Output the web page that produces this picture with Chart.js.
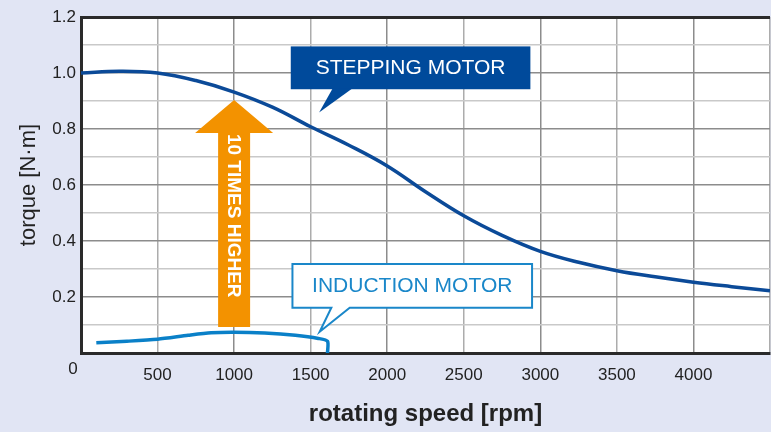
<!DOCTYPE html>
<html>
<head>
<meta charset="utf-8">
<script src="https://cdn.jsdelivr.net/npm/chart.js@4.4.0/dist/chart.umd.min.js"></script>
<style>
  html, body { margin: 0; padding: 0; background: #e1e5f4; }
  #wrap { width: 771px; height: 432px; }
</style>
</head>
<body>
<div id="wrap"><canvas id="torque-chart"></canvas></div>
<script>
    // stepping motor curve
    const stepSpeed = [0, 250, 500, 750, 1000, 1250, 1500, 1750, 2000, 2250, 2500, 2750, 3000, 3250, 3500, 3750, 4000, 4250, 4500];
    const stepTorque = [1.0, 1.006, 1.0, 0.973, 0.932, 0.878, 0.808, 0.742, 0.668, 0.576, 0.49, 0.42, 0.363, 0.324, 0.294, 0.272, 0.253, 0.237, 0.222];

    // induction motor curve (ends with the drop to zero)
    const indSpeed = [100, 300, 500, 700, 850, 1000, 1200, 1400, 1550, 1610, 1610];
    const indTorque = [0.037, 0.042, 0.049, 0.063, 0.072, 0.074, 0.071, 0.063, 0.052, 0.042, 0];

    // axis ticks
    const speedTicks = [0, 500, 1000, 1500, 2000, 2500, 3000, 3500, 4000];
    const torqueTicks = [0.2, 0.4, 0.6, 0.8, 1.0, 1.2];

    const FONT = '"Liberation Sans", Arial, Helvetica, sans-serif';

    const toPoints = (xs, ys) => xs.map((v, i) => ({ x: v, y: ys[i] }));

    // background, arrow and callouts
    const decor = {
        id: 'decor',
        beforeDraw(chart) {
            const { ctx, chartArea: a } = chart;
            ctx.save();
            ctx.fillStyle = '#e1e5f4';
            ctx.fillRect(0, 0, chart.width, chart.height);
            ctx.fillStyle = '#ffffff';
            ctx.fillRect(a.left, a.top, a.right - a.left, a.bottom - a.top);
            ctx.restore();
        },
        afterDatasetsDraw(chart) {
            const { ctx } = chart;
            const x = chart.scales.x, y = chart.scales.y;
            ctx.save();

            // orange arrow
            const ax = x.getPixelForValue(1000);
            const tip = y.getPixelForValue(0.904);
            const base = y.getPixelForValue(0.786);
            const bot = y.getPixelForValue(0.093);
            ctx.fillStyle = '#f39200';
            ctx.beginPath();
            ctx.moveTo(ax, tip);
            ctx.lineTo(ax + 39, base);
            ctx.lineTo(ax + 16, base);
            ctx.lineTo(ax + 16, bot);
            ctx.lineTo(ax - 16, bot);
            ctx.lineTo(ax - 16, base);
            ctx.lineTo(ax - 39, base);
            ctx.closePath();
            ctx.fill();

            ctx.save();
            ctx.translate(ax, base + 1);
            ctx.rotate(Math.PI / 2);
            ctx.fillStyle = '#ffffff';
            ctx.font = 'bold 19px ' + FONT;
            ctx.textAlign = 'left';
            ctx.textBaseline = 'middle';
            ctx.fillText('10 TIMES HIGHER', 0, 1);
            ctx.restore();

            // stepping motor callout
            let l = x.getPixelForValue(1370), r = x.getPixelForValue(2935);
            let t = y.getPixelForValue(1.095), b = y.getPixelForValue(0.942);
            ctx.fillStyle = '#004a9b';
            ctx.fillRect(l, t, r - l, b - t);
            ctx.beginPath();
            ctx.moveTo(x.getPixelForValue(1644), b - 1);
            ctx.lineTo(x.getPixelForValue(1555), y.getPixelForValue(0.859));
            ctx.lineTo(x.getPixelForValue(1774), b - 1);
            ctx.closePath();
            ctx.fill();
            ctx.fillStyle = '#ffffff';
            ctx.font = '21px ' + FONT;
            ctx.textAlign = 'center';
            ctx.textBaseline = 'middle';
            ctx.fillText('STEPPING MOTOR', (l + r) / 2, (t + b) / 2);

            // induction motor callout
            l = x.getPixelForValue(1381); r = x.getPixelForValue(2946);
            t = y.getPixelForValue(0.318); b = y.getPixelForValue(0.162);
            ctx.beginPath();
            ctx.moveTo(l, t);
            ctx.lineTo(r, t);
            ctx.lineTo(r, b);
            ctx.lineTo(x.getPixelForValue(1755), b);
            ctx.lineTo(x.getPixelForValue(1559), y.getPixelForValue(0.076));
            ctx.lineTo(x.getPixelForValue(1635), b);
            ctx.lineTo(l, b);
            ctx.closePath();
            ctx.fillStyle = '#ffffff';
            ctx.fill();
            ctx.strokeStyle = '#1a87c9';
            ctx.lineWidth = 2;
            ctx.stroke();
            ctx.fillStyle = '#1a87c9';
            ctx.fillText('INDUCTION MOTOR', (l + r) / 2, (t + b) / 2);

            // shared origin label
            ctx.fillStyle = '#222';
            ctx.font = '17px ' + FONT;
            ctx.fillText('0', x.left - 8, x.top + 16);
            ctx.restore();
        }
    };

    const chart = new Chart(document.getElementById('torque-chart'), {
        type: 'line',
        data: {
            datasets: [{
                label: 'STEPPING MOTOR',
                data: toPoints(stepSpeed, stepTorque),
                borderColor: '#0b4a98',
                borderWidth: 3.5,
                pointRadius: 0,
                tension: 0.4
            }, {
                label: 'INDUCTION MOTOR',
                data: toPoints(indSpeed, indTorque),
                borderColor: '#0a80c8',
                borderWidth: 3.5,
                pointRadius: 0,
                tension: 0.25
            }]
        },
        options: {
            responsive: true,
            maintainAspectRatio: false,
            animation: false,
            devicePixelRatio: 1,
            layout: { padding: { top: 17, right: 0, left: 0, bottom: 0 } },
            plugins: {
                legend: { display: false },
                tooltip: { enabled: false }
            },
            scales: {
                x: {
                    type: 'linear',
                    min: 0,
                    max: 4500,
                    afterBuildTicks: s => { s.ticks = speedTicks.concat([4500]).map(v => ({ value: v })); },
                    afterFit: s => {
                        s.height = 79;
                        s.paddingLeft = 0;
                        s.paddingRight = 1;
                    },
                    ticks: {
                        padding: 12,
                        color: '#222',
                        font: { family: FONT, size: 17 },
                        callback: v => (v === 0 || v === 4500) ? '' : String(v)
                    },
                    grid: {
                        drawTicks: false,
                        color: c => (c.tick && c.tick.value % 1000 === 0) ? '#8c8c8c' : '#acacac',
                        lineWidth: 1.5
                    },
                    border: { color: '#2a2a2a', width: 3 },
                    title: {
                        display: true,
                        text: 'rotating speed [rpm]',
                        color: '#222',
                        font: { family: FONT, size: 24, weight: 'bold' },
                        padding: { top: 0, bottom: 3 }
                    }
                },
                y: {
                    min: 0,
                    max: 1.2,
                    afterBuildTicks: s => {
                        const t = [];
                        for (let i = 0; i <= 12; i++) t.push({ value: i / 10 });
                        s.ticks = t;
                    },
                    afterFit: s => { s.width = 81; },
                    ticks: {
                        padding: 5,
                        color: '#222',
                        font: { family: FONT, size: 17 },
                        callback: v => torqueTicks.some(t => Math.abs(t - v) < 1e-6) ? v.toFixed(1) : ''
                    },
                    grid: {
                        drawTicks: false,
                        color: c => {
                            if (!c.tick) return '#c9c9c9';
                            const n = Math.round(c.tick.value * 10);
                            if (n === 12) return '#2a2a2a';
                            return n % 2 === 0 ? '#8c8c8c' : '#c9c9c9';
                        },
                        lineWidth: c => (c.tick && Math.round(c.tick.value * 10) === 12) ? 3 : 1.5
                    },
                    border: { color: '#2a2a2a', width: 3 },
                    title: {
                        display: true,
                        text: 'torque [N·m]',
                        color: '#222',
                        font: { family: FONT, size: 22 },
                        padding: { top: 16, bottom: 0 }
                    }
                }
            }
        },
        plugins: [decor]
    });
</script>
</body>
</html>
